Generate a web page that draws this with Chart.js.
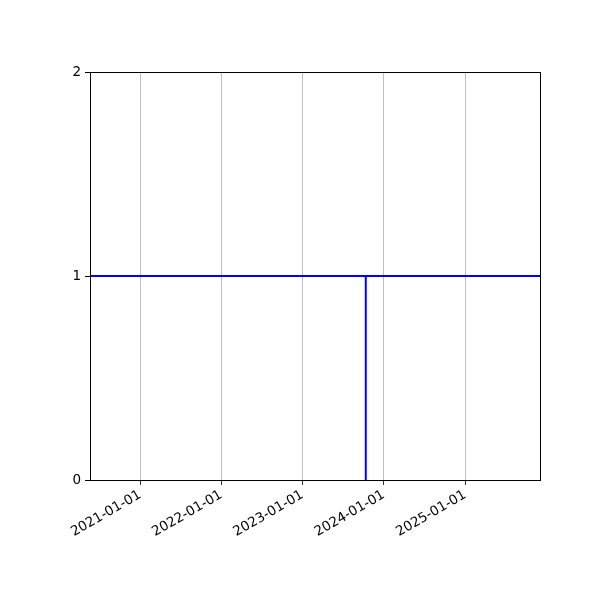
<!DOCTYPE html>
<html>
<head>
<meta charset="utf-8">
<script src="https://cdn.jsdelivr.net/npm/chart.js@4"></script>
<style>
  html, body { margin: 0; padding: 0; background: #fff; }
  #wrap { width: 600px; height: 600px; }
</style>
</head>
<body>
<div id="wrap"><canvas id="chart" width="600" height="600"></canvas></div>
<script>
// x range and tick dates (ISO strings)
const xRange = ['2020-05-21', '2025-12-03'];
const yearTicks = ['2021-01-01', '2022-01-01', '2023-01-01', '2024-01-01', '2025-01-01'];
const yTicks = [0, 1, 2];

// horizontal level line
const levelDates = ['2020-05-21', '2025-12-03'];
const levelValues = [1, 1];

// vertical drop line
const dropDates = ['2023-10-12', '2023-10-12'];
const dropValues = [0, 1];

const ms = s => Date.parse(s + 'T00:00:00Z');
const fmt = v => new Date(v).toISOString().slice(0, 10);

const toPoints = (dates, vals) => dates.map((d, i) => ({ x: ms(d), y: vals[i] }));

// draws the top and right spines
const frame = {
  id: 'frame',
  afterDraw(c) {
    const { ctx, chartArea: a } = c;
    ctx.save();
    ctx.strokeStyle = '#000';
    ctx.lineWidth = 1;
    ctx.strokeRect(a.left + 0.5, a.top + 0.5, a.right - a.left, a.bottom - a.top);
    ctx.restore();
  }
};

Chart.defaults.font.family = 'DejaVu Sans';
Chart.defaults.font.size = 13.5;
Chart.defaults.color = '#000';

new Chart(document.getElementById('chart'), {
  type: 'line',
  data: {
    datasets: [
      {
        data: toPoints(levelDates, levelValues),
        borderColor: '#0000ff',
        borderWidth: 2,
        pointRadius: 0,
        fill: false
      },
      {
        data: toPoints(dropDates, dropValues),
        borderColor: '#0000ff',
        borderWidth: 2,
        pointRadius: 0,
        fill: false
      }
    ]
  },
  options: {
    responsive: false,
    animation: false,
    layout: { padding: { left: 0, right: 60, top: 72, bottom: 0 } },
    plugins: { legend: { display: false }, tooltip: { enabled: false } },
    scales: {
      x: {
        type: 'linear',
        min: ms(xRange[0]),
        max: ms(xRange[1]),
        afterBuildTicks: s => { s.ticks = yearTicks.map(d => ({ value: ms(d) })); },
        afterFit: s => { s.height = 120; },
        ticks: {
          callback: v => fmt(v),
          minRotation: 30,
          maxRotation: 30,
          autoSkip: false,
          padding: 2
        },
        grid: { color: '#b0b0b0', lineWidth: 0.8, tickColor: '#000', tickLength: 5 },
        border: { color: '#000', width: 1 }
      },
      y: {
        min: 0,
        max: 2,
        afterBuildTicks: s => { s.ticks = yTicks.map(v => ({ value: v })); },
        afterFit: s => { s.width = 90; },
        ticks: { padding: 4 },
        grid: { drawOnChartArea: false, tickColor: '#000', tickLength: 5 },
        border: { color: '#000', width: 1 }
      }
    }
  },
  plugins: [frame]
});
</script>
</body>
</html>
